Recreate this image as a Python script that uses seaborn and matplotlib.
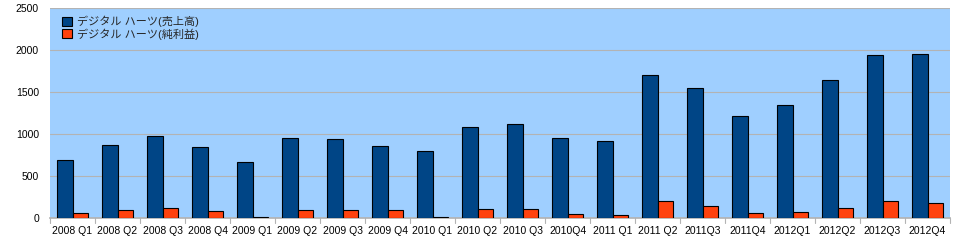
import matplotlib
matplotlib.use("Agg")
import matplotlib.pyplot as plt
import seaborn as sns
import pandas as pd

categories = ["2008 Q1", "2008 Q2", "2008 Q3", "2008 Q4", "2009 Q1", "2009 Q2",
              "2009 Q3", "2009 Q4", "2010 Q1", "2010 Q2", "2010 Q3", "2010Q4",
              "2011 Q1", "2011 Q2", "2011Q3", "2011Q4", "2012Q1", "2012Q2",
              "2012Q3", "2012Q4"]
sales = [690, 870, 978, 848, 668, 952, 942, 858, 800, 1085, 1120, 955,
         918, 1702, 1548, 1215, 1345, 1645, 1942, 1952]
profit = [60, 95, 120, 83, 10, 95, 95, 95, 10, 107, 107, 51,
          36, 202, 143, 60, 71, 119, 200, 178]
series_names = ["デジタル ハーツ(売上高)", "デジタル ハーツ(純利益)"]
yticks = [0, 500, 1000, 1500, 2000, 2500]

df = pd.DataFrame({
    "cat": categories * 2,
    "value": sales + profit,
    "series": [series_names[0]] * len(categories) + [series_names[1]] * len(categories),
})

sns.set_theme(style="white")
plt.rcParams["font.family"] = ["Liberation Sans", "Noto Sans CJK JP", "DejaVu Sans"]

fig = plt.figure(figsize=(9.55, 2.44), dpi=100)
ax = fig.add_axes([50 / 955, 26 / 244, 900 / 955, 210 / 244])
ax.set_facecolor("#9FCFFF")

sns.barplot(data=df, x="cat", y="value", hue="series", order=categories,
            hue_order=series_names, palette=["#004586", "#FF420E"],
            saturation=1, width=0.67, edgecolor="black", linewidth=0.8,
            ax=ax, zorder=3)

ax.set_ylim(0, 2500)
ax.set_yticks(yticks)
ax.set_xlim(-0.5, len(categories) - 0.5)
ax.yaxis.grid(True, color="#B3B3B3", linewidth=0.8, zorder=0)
ax.set_axisbelow(True)
ax.set_xlabel("")
ax.set_ylabel("")
for s in ["top", "left", "right"]:
    ax.spines[s].set_visible(False)
ax.spines["bottom"].set_color("#B3B3B3")
ax.tick_params(axis="y", length=0, labelsize=7.5, colors="black", pad=8)
ax.tick_params(axis="x", length=0, labelsize=7.5, colors="black", pad=6)
for i in range(len(categories) + 1):
    ax.plot([i - 0.5, i - 0.5], [0, -0.025], transform=ax.get_xaxis_transform(),
            color="#B3B3B3", linewidth=0.8, clip_on=False)

leg = ax.legend(loc="upper left", frameon=False, fontsize=8,
                handlelength=0.9, handleheight=0.9, handletextpad=0.4,
                labelspacing=0.1, borderaxespad=0.3, bbox_to_anchor=(0.005, 1.0))
for h in leg.legend_handles:
    h.set_edgecolor("black")

fig.savefig("out.png", dpi=100)
